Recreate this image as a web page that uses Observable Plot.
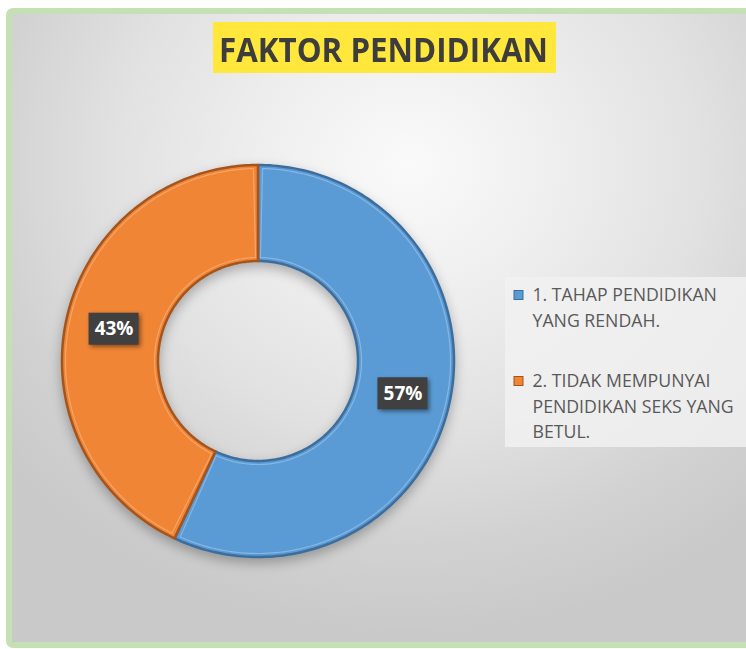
<!DOCTYPE html>
<html>
<head>
<meta charset="utf-8">
<script src="https://cdn.jsdelivr.net/npm/d3@7"></script>
<script src="https://cdn.jsdelivr.net/npm/@observablehq/plot@0.6"></script>
<style>
  html, body { margin: 0; padding: 0; background: #ffffff; }
  #wrap { position: relative; width: 746px; height: 649px; overflow: hidden; }
  #frame {
    position: absolute; left: 6px; top: 8px; width: 760px; height: 640px;
    box-sizing: border-box; border: 6px solid #c5e0b4; border-radius: 7px;
    background: radial-gradient(ellipse 70% 75% at 53% 24%, #fafafa 0%, #f0f0f0 25%, #e2e2e2 55%, #d2d2d2 80%, #c9c9c9 100%);
  }
  #title {
    position: absolute; left: 213px; top: 22px; width: 343px; height: 51px;
    background: #ffe83b; overflow: hidden;
  }
  #title span {
    position: absolute; left: 6px; top: 1.5px;
    display: inline-block; font-family: "Open Sans", sans-serif; font-weight: 700;
    font-size: 34px; line-height: 51px; color: #3d3d3d;
    transform-origin: 0 50%; white-space: nowrap;
  }
  #chart { position: absolute; left: 0; top: 0; }
</style>
</head>
<body>
<div id="wrap">
  <div id="frame"></div>
  <div id="title"><span></span></div>
  <div id="chart"></div>
</div>
<script>
// ---- data ----
const titleText = "FAKTOR PENDIDIKAN";
const categories = ["1. TAHAP PENDIDIKAN YANG RENDAH.", "2. TIDAK MEMPUNYAI PENDIDIKAN SEKS YANG BETUL."];
const values = [57, 43];
const valueLabels = ["57%", "43%"];
const legendLines = [
  ["1. TAHAP PENDIDIKAN", "YANG RENDAH."],
  ["2. TIDAK MEMPUNYAI", "PENDIDIKAN SEKS YANG", "BETUL."]
];
const colors = ["#5b9bd5", "#ef8535"];
const edgeColors = ["#3c6d9c", "#a5541c"];
const lightColors = ["#86b6e3", "#f7a468"];

const tspan = document.querySelector("#title span");
tspan.textContent = titleText;
const tw = tspan.getBoundingClientRect().width;
if (tw > 0) tspan.style.transform = `scaleX(${329 / tw})`;

// ---- layout ----
const W = 746, H = 649;
const CX = 258, CY = 361, R0 = 100, R1 = 196;

const rows = categories.map((c, i) => ({cat: c, value: values[i], label: valueLabels[i], i}));
const pie = d3.pie().sort(null).value(d => d.value)(rows);

// each sample: outer point (x1,y1) and inner point (x2,y2)
function band(a0, a1, r0, r1, i, n = 180) {
  const pts = [];
  for (let k = 0; k <= n; k++) {
    const a = a0 + (a1 - a0) * k / n, s = Math.sin(a), c = Math.cos(a);
    pts.push({x1: CX + r1 * s, y1: CY - r1 * c, x2: CX + r0 * s, y2: CY - r0 * c, i});
  }
  return pts;
}

const slicePts = [], insetPts = [];
pie.forEach((p, i) => {
  slicePts.push(...band(p.startAngle, p.endAngle, R0, R1, i));
  const inset = 3.5;
  const da0 = inset / ((R0 + R1) / 2);
  insetPts.push(...band(p.startAngle + da0, p.endAngle - da0, R0 + inset, R1 - inset, i));
});

const labelPos = pie.map((p, i) => {
  const a = (p.startAngle + p.endAngle) / 2, r = (R0 + R1) / 2;
  return {x: CX + r * Math.sin(a), y: CY - r * Math.cos(a), label: p.data.label};
});

// legend
const LX = 532, legendTop = [295, 381], linePitch = 25.5;
const legendText = [];
legendLines.forEach((lines, i) => lines.forEach((t, j) => legendText.push({x: LX, y: legendTop[i] + j * linePitch, t, i})));
const swatches = legendTop.map((y, i) => ({x: 518.5, y, i}));

const plot = Plot.plot({
  width: W, height: H,
  margin: 0,
  x: {domain: [0, W], range: [0, W], axis: null},
  y: {domain: [0, H], range: [0, H], axis: null},
  color: {domain: [0, 1], range: colors, type: "ordinal"},
  style: {background: "transparent", overflow: "visible"},
  marks: [
    // legend background
    Plot.rect([{x1: 505, x2: W, y1: 277, y2: 447}], {x1: "x1", x2: "x2", y1: "y1", y2: "y2", fill: "#f1f1f1", fillOpacity: 0.85}),
    // donut slices
    Plot.area(slicePts, {x1: "x1", y1: "y1", x2: "x2", y2: "y2", z: "i", fill: "i", stroke: d => edgeColors[d.i], strokeWidth: 2.5}),
    Plot.area(insetPts, {x1: "x1", y1: "y1", x2: "x2", y2: "y2", z: "i", fill: "none", stroke: d => lightColors[d.i], strokeWidth: 1.2}),
    // value label boxes
    Plot.rect(labelPos, {x1: d => d.x - 25, x2: d => d.x + 25, y1: d => d.y - 16, y2: d => d.y + 16, fill: "#404040"}),
    Plot.text(labelPos, {x: "x", y: "y", text: "label", fill: "white", fontSize: 19, fontWeight: "bold", fontFamily: "Open Sans, sans-serif"}),
    // legend swatches
    Plot.rect(swatches, {x1: d => d.x - 4.5, x2: d => d.x + 4.5, y1: d => d.y - 4.5, y2: d => d.y + 4.5, fill: "i", stroke: d => edgeColors[d.i], strokeWidth: 1}),
    Plot.text(legendText, {x: "x", y: "y", text: "t", textAnchor: "start", fill: "#595959", fontSize: 17.7, fontFamily: "Open Sans, sans-serif"})
  ]
});
const groups = plot.querySelectorAll(":scope > g");
if (groups[1]) groups[1].style.filter = "drop-shadow(0px 5px 6px rgba(0,0,0,0.28))";
if (groups[3]) groups[3].style.filter = "drop-shadow(2px 2px 2px rgba(0,0,0,0.45))";
document.getElementById("chart").appendChild(plot);
</script>
</body>
</html>
